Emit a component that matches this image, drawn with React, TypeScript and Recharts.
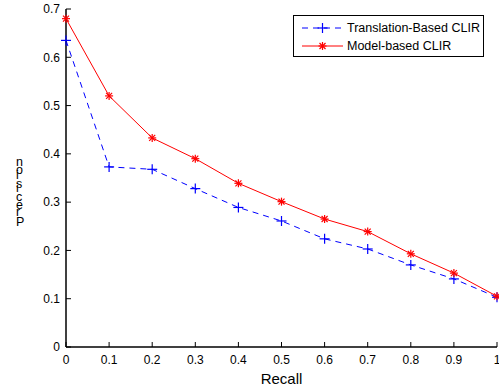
import { Legend, Line, LineChart, XAxis, YAxis } from "recharts";

const RECALL = [0, 0.1, 0.2, 0.3, 0.4, 0.5, 0.6, 0.7, 0.8, 0.9, 1];
const TRANSLATION_BASED = [0.635, 0.373, 0.368, 0.328, 0.289, 0.261, 0.224, 0.203, 0.17, 0.141, 0.103];
const MODEL_BASED = [0.68, 0.52, 0.433, 0.39, 0.339, 0.301, 0.265, 0.239, 0.193, 0.153, 0.105];

const X_TICKS = [0, 0.1, 0.2, 0.3, 0.4, 0.5, 0.6, 0.7, 0.8, 0.9, 1];
const Y_TICKS = [0, 0.1, 0.2, 0.3, 0.4, 0.5, 0.6, 0.7];

const SERIES = [
  { key: "translation", label: "Translation-Based CLIR", color: "#0000ff", dashed: true },
  { key: "model", label: "Model-based CLIR", color: "#ff0000", dashed: false },
];

const data = RECALL.map((r, i) => ({
  recall: r,
  translation: TRANSLATION_BASED[i],
  model: MODEL_BASED[i],
}));

const FONT = "'Liberation Sans', Arial, Helvetica, sans-serif";
const TICK_LEN = 5;
const X_MARGIN = 8;
const Y_MARGIN = 6;

// matlab style: ticks point into the box
const BottomTick = (props: any) => {
  const { x, y, payload } = props;
  const axisY = y - X_MARGIN;
  return (
    <g>
      <line x1={x} x2={x} y1={axisY} y2={axisY - TICK_LEN} stroke="#000" />
      <text x={x} y={y} dy="0.71em" textAnchor="middle" fontSize={12} fontFamily={FONT} fill="#000">
        {String(payload.value)}
      </text>
    </g>
  );
};

const LeftTick = (props: any) => {
  const { x, y, payload } = props;
  const axisX = x + Y_MARGIN;
  return (
    <g>
      <line x1={axisX} x2={axisX + TICK_LEN} y1={y} y2={y} stroke="#000" />
      <text x={x} y={y} dy="0.355em" textAnchor="end" fontSize={12} fontFamily={FONT} fill="#000">
        {String(payload.value)}
      </text>
    </g>
  );
};

const TopTick = (props: any) => {
  const { x, y } = props;
  return <line x1={x} x2={x} y1={y} y2={y + TICK_LEN} stroke="#000" />;
};

const RightTick = (props: any) => {
  const { x, y } = props;
  return <line x1={x} x2={x - TICK_LEN} y1={y} y2={y} stroke="#000" />;
};

const PlusDot = (props: any) => {
  const { cx, cy, stroke, index } = props;
  if (cx == null || cy == null) return <g key={index} />;
  return (
    <g key={index}>
      <line x1={cx - 5} x2={cx + 5} y1={cy} y2={cy} stroke={stroke} strokeWidth={1.2} />
      <line x1={cx} x2={cx} y1={cy - 5} y2={cy + 5} stroke={stroke} strokeWidth={1.2} />
    </g>
  );
};

const StarDot = (props: any) => {
  const { cx, cy, stroke, index } = props;
  if (cx == null || cy == null) return <g key={index} />;
  const s = 4;
  const d = 3;
  return (
    <g key={index} stroke={stroke} strokeWidth={1.2}>
      <line x1={cx - s} x2={cx + s} y1={cy} y2={cy} />
      <line x1={cx} x2={cx} y1={cy - s} y2={cy + s} />
      <line x1={cx - d} x2={cx + d} y1={cy - d} y2={cy + d} />
      <line x1={cx - d} x2={cx + d} y1={cy + d} y2={cy - d} />
    </g>
  );
};

const YLabel = () => (
  // glyphs stay upright but advance upwards, like the original figure
  <text
    transform="translate(16,226) rotate(-90)"
    rotate="90"
    fontSize={12.5}
    letterSpacing={2}
    fontFamily={FONT}
    fill="#000"
  >
    Precision
  </text>
);

const renderLegend = () => (
  <div
    style={{
      position: "relative",
      width: 189,
      height: 40,
      border: "1px solid #000",
      background: "#fff",
      fontFamily: FONT,
      fontSize: 12.5,
      color: "#000",
    }}
  >
    {SERIES.map((s, i) => (
      <div key={s.key} style={{ position: "absolute", left: 0, top: 3 + i * 18, height: 18, width: 189 }}>
        <svg width={52} height={18} style={{ position: "absolute", left: 0, top: 0 }}>
          <line
            x1={8}
            x2={49}
            y1={9}
            y2={9}
            stroke={s.color}
            strokeWidth={1}
            strokeDasharray={s.dashed ? "6 5" : undefined}
          />
          {s.dashed ? (
            <PlusDot cx={28.5} cy={9} stroke={s.color} index={0} />
          ) : (
            <StarDot cx={28.5} cy={9} stroke={s.color} index={0} />
          )}
        </svg>
        <span style={{ position: "absolute", left: 53, top: 1, lineHeight: "16px", whiteSpace: "nowrap" }}>
          {s.label}
        </span>
      </div>
    ))}
  </div>
);

export default function App() {
  return (
    <div style={{ position: "absolute", left: 0, top: 0, width: 499, height: 390, background: "#fff" }}>
      <LineChart width={499} height={390} data={data} margin={{ top: 9, right: 2, left: 0, bottom: 0 }}>
        <XAxis
          dataKey="recall"
          type="number"
          domain={[0, 1]}
          ticks={X_TICKS}
          interval={0}
          height={43}
          tickSize={0}
          tickMargin={X_MARGIN}
          tick={<BottomTick />}
          axisLine={{ stroke: "#000", strokeWidth: 1.5 }}
          tickLine={false}
          label={{ value: "Recall", position: "insideBottom", offset: 6, fontSize: 15, fontFamily: FONT, fill: "#000" }}
        />
        <XAxis
          xAxisId="top"
          orientation="top"
          dataKey="recall"
          type="number"
          domain={[0, 1]}
          ticks={X_TICKS}
          interval={0}
          height={0}
          tickSize={0}
          tickMargin={0}
          tick={<TopTick />}
          axisLine={{ stroke: "#000", strokeWidth: 1.5 }}
          tickLine={false}
        />
        <YAxis
          type="number"
          domain={[0, 0.7]}
          ticks={Y_TICKS}
          interval={0}
          width={66}
          tickSize={0}
          tickMargin={Y_MARGIN}
          tick={<LeftTick />}
          axisLine={{ stroke: "#000", strokeWidth: 1.5 }}
          tickLine={false}
          label={<YLabel />}
        />
        <YAxis
          yAxisId="right"
          orientation="right"
          type="number"
          domain={[0, 0.7]}
          ticks={Y_TICKS}
          interval={0}
          width={0}
          tickSize={0}
          tickMargin={0}
          tick={<RightTick />}
          axisLine={{ stroke: "#000", strokeWidth: 1.5 }}
          tickLine={false}
        />
        <Legend
          layout="horizontal"
          align="center"
          verticalAlign="middle"
          content={renderLegend}
          wrapperStyle={{ left: 293, top: 15, width: 191, height: 42 }}
        />
        <Line
          dataKey="translation"
          name="Translation-Based CLIR"
          type="linear"
          stroke="#0000ff"
          strokeWidth={1}
          strokeDasharray="6 5"
          dot={PlusDot}
          activeDot={false}
          isAnimationActive={false}
        />
        <Line
          dataKey="model"
          name="Model-based CLIR"
          type="linear"
          stroke="#ff0000"
          strokeWidth={1}
          dot={StarDot}
          activeDot={false}
          isAnimationActive={false}
        />
      </LineChart>
    </div>
  );
}
